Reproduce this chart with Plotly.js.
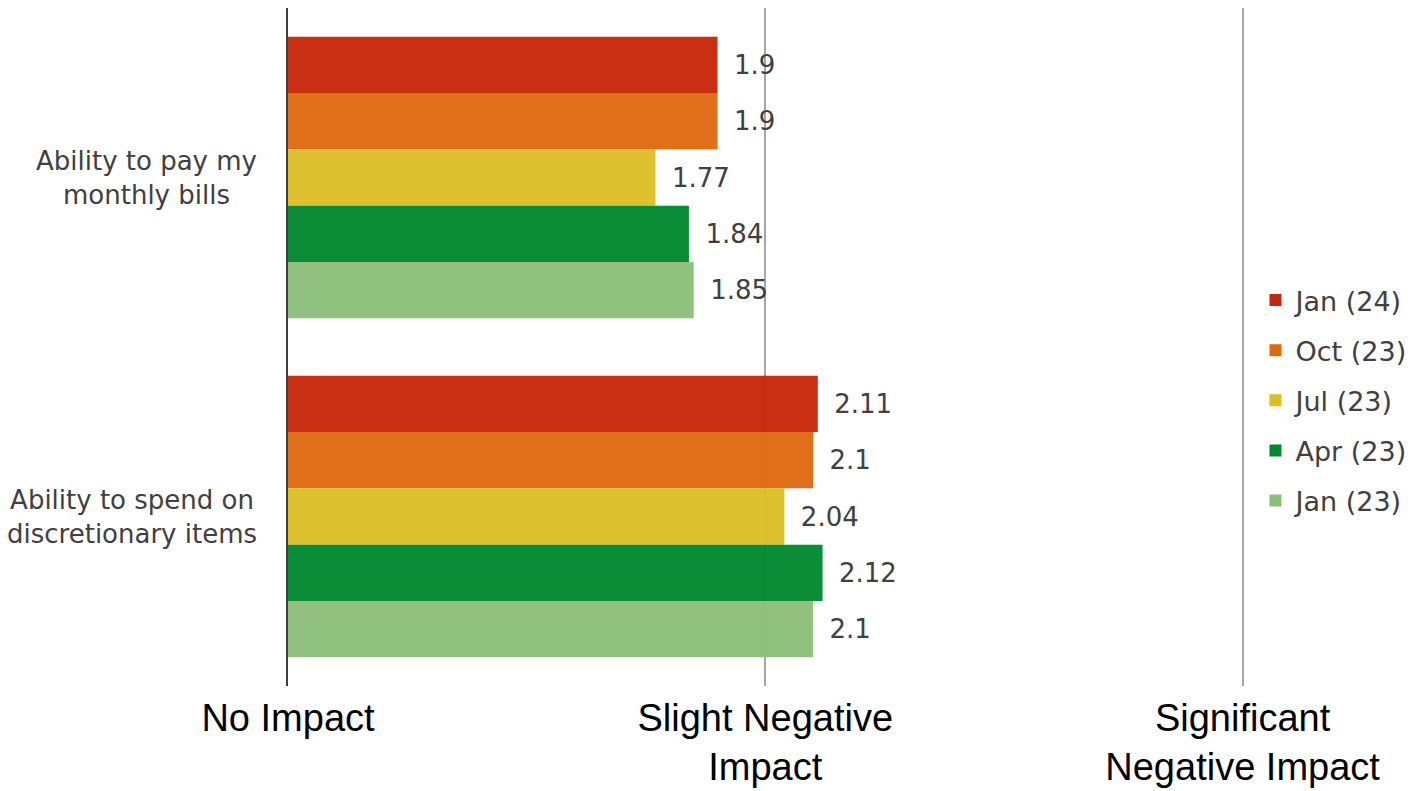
<!DOCTYPE html>
<html>
<head>
<meta charset="utf-8">
<script src="https://cdn.plot.ly/plotly-3.0.1.min.js"></script>
<style>
  html, body { margin: 0; padding: 0; background: #ffffff; }
  #chart { width: 1422px; height: 791px; }
</style>
</head>
<body>
<div id="chart"></div>
<script>
// Survey items (top to bottom)
const categories = ["Ability to pay my monthly bills", "Ability to spend on discretionary items"];
const categoryLabels = ["Ability to pay my<br>monthly bills", "Ability to spend on<br>discretionary items"];

// Survey waves, newest first
const waves = ["Jan (24)", "Oct (23)", "Jul (23)", "Apr (23)", "Jan (23)"];
const waveColors = ["#C8260A", "#DE6A10", "#DDBE25", "#00882E", "#8BBE79"];

// Mean impact score per wave (1 = no impact, 3 = significant negative impact)
const jan24 = [1.9, 2.11];
const oct23 = [1.9, 2.1];
const jul23 = [1.77, 2.04];
const apr23 = [1.84, 2.12];
const jan23 = [1.85, 2.1];
const seriesValues = [jan24, oct23, jul23, apr23, jan23];

// Scale tick positions and labels
const scaleTicks = [1, 2, 3];
const scaleLabels = ["No Impact", "Slight Negative<br>Impact", "Significant<br>Negative Impact"];

const labelFont = { family: "DejaVu Sans, Verdana, sans-serif", size: 26, color: "#404040" };

const traces = waves.map((name, i) => ({
  type: "bar",
  orientation: "h",
  name: name,
  legendgroup: name,
  y: categories,
  x: seriesValues[i],
  marker: { color: waveColors[i], opacity: 0.96, line: { width: 0 } },
  text: seriesValues[i].map(v => String(v)),
  texttemplate: "\u00a0\u2009%{text}",
  textposition: "outside",
  textfont: labelFont,
  cliponaxis: true,
  hoverinfo: "x+name"
}));

const annotations = categories.map((c, i) => ({
  xref: "paper", yref: "y",
  x: -0.0304, y: c,
  xanchor: "right", yanchor: "middle",
  align: "center",
  text: categoryLabels[i],
  showarrow: false,
  font: { family: "DejaVu Sans, Verdana, sans-serif", size: 26, color: "#404040" }
}));

const layout = {
  width: 1422,
  height: 791,
  margin: { l: 288, r: 178, t: 8, b: 105 },
  paper_bgcolor: "#ffffff",
  plot_bgcolor: "#ffffff",
  barmode: "group",
  bargap: 0.17,
  bargroupgap: 0,
  showlegend: true,
  legend: {
    x: 1.012, xanchor: "left",
    y: 0.421, yanchor: "middle",
    traceorder: "grouped",
    tracegroupgap: 12,
    font: { family: "DejaVu Sans, Verdana, sans-serif", size: 27, color: "#404040" },
    bgcolor: "rgba(0,0,0,0)"
  },
  xaxis: {
    range: [1, 3.003],
    tickvals: scaleTicks,
    ticktext: scaleLabels,
    showgrid: true,
    gridcolor: "#A6A6A6",
    gridwidth: 2,
    zeroline: false,
    showline: false,
    ticks: "",
    ticklabelstandoff: 6,
    tickfont: { family: "Liberation Sans, Arial, sans-serif", size: 38, color: "#000000" },
    fixedrange: true
  },
  yaxis: {
    type: "category",
    range: [1.5, -0.5],
    showticklabels: false,
    showgrid: false,
    zeroline: false,
    showline: true,
    linecolor: "#404040",
    linewidth: 2.5,
    layer: "above traces",
    ticks: "",
    fixedrange: true
  },
  annotations: annotations
};

Plotly.newPlot("chart", traces, layout, { displayModeBar: false, staticPlot: true });
</script>
</body>
</html>
